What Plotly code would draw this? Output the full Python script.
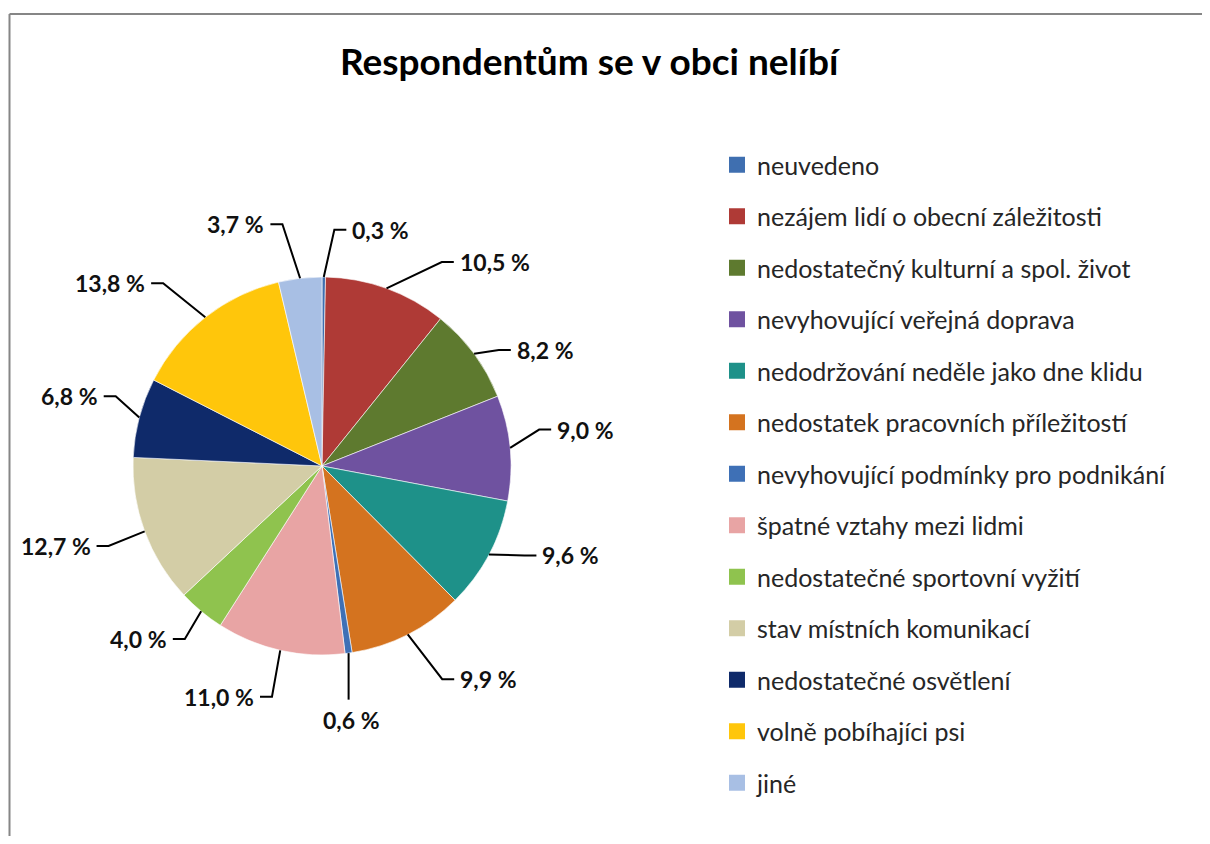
import math
import plotly.graph_objects as go

categories = [
    "neuvedeno",
    "nezájem lidí o obecní záležitosti",
    "nedostatečný kulturní a spol. život",
    "nevyhovující veřejná doprava",
    "nedodržování neděle jako dne klidu",
    "nedostatek pracovních příležitostí",
    "nevyhovující podmínky pro podnikání",
    "špatné vztahy mezi lidmi",
    "nedostatečné sportovní vyžití",
    "stav místních komunikací",
    "nedostatečné osvětlení",
    "volně pobíhajíci psi",
    "jiné",
]
values = [0.3, 10.5, 8.2, 9.0, 9.6, 9.9, 0.6, 11.0, 4.0, 12.7, 6.8, 13.8, 3.7]
colors = ["#3F6FB0", "#AF3A36", "#5E7A2F", "#6F52A0", "#1E9189", "#D4731F",
          "#3E70B6", "#E8A4A4", "#8FC34E", "#D3CDA6", "#0F2A6A", "#FFC60B", "#A8BFE4"]
title_text = "Respondentům se v obci nelíbí"

# label layout (styling): angular nudge in degrees and distance of label anchor in px
label_shift = [6.3, 13.7, 5.4, -3.4, -5.7, -5.6, 0, 3.2, 1.8, 1.0, 2.6, -5.6, -6.3]
label_dist = [238, 245, 225, 236, 236, 253, 256, 240, 231, 243, 233, 253, 248]

OX, OY = 8, 8                 # page offset (body margin)
W, H = 1210 - 2 * OX, 844 - 2 * OY
CX, CY, R = 322 - OX, 466 - OY, 189   # pie centre / radius in px

fig = go.Figure()
fig.add_trace(go.Pie(
    labels=categories, values=values, sort=False, direction="clockwise",
    rotation=0, textinfo="none", showlegend=False,
    marker=dict(colors=colors, line=dict(color="rgba(255,255,255,0.6)", width=1)),
    domain=dict(x=[(CX - R) / W, (CX + R) / W], y=[1 - (CY + R) / H, 1 - (CY - R) / H]),
    hoverinfo="label+percent",
))

# legend via dummy traces (for item spacing)
for c, col in zip(categories, colors):
    fig.add_trace(go.Scatter(x=[None], y=[None], mode="markers", name=c, legendgroup=c,
                             marker=dict(symbol="square", size=16, color=col)))


def px(x, y):
    return f"{x / W},{1 - y / H}"


# labels with leader lines, computed from slice mid angles
total = sum(values)
cum = 0.0
shapes = []
annotations = []
label_font = dict(family="Lato", size=23, color="#111111", weight="bold")
for v, shift, dist in zip(values, label_shift, label_dist):
    mid = (cum + v / 2) / total * 2 * math.pi
    cum += v
    s, c = math.sin(mid), -math.cos(mid)
    x0, y0 = CX + R * s, CY + R * c
    text = f"{v:.1f} %".replace(".", ",")
    if c > 0.985:  # bottom-most: vertical leader, centred label below
        y1 = CY + (dist - 20) * c
        shapes.append(dict(type="path", xref="paper", yref="paper",
                           path=f"M {px(x0, y0)} L {px(x0, y1)}",
                           line=dict(color="black", width=2)))
        annotations.append(dict(x=(x0 + 3) / W, y=1 - (y1 + 4) / H, xref="paper", yref="paper",
                                text=text, showarrow=False, xanchor="center", yanchor="top",
                                font=label_font))
        continue
    a = mid + math.radians(shift)
    side = 1 if s >= 0 else -1
    ax, ay = CX + dist * math.sin(a), CY - dist * math.cos(a)
    ex = ax - side * 16
    shapes.append(dict(type="path", xref="paper", yref="paper",
                       path=f"M {px(x0, y0)} L {px(ex, ay)} L {px(ax - side * 4, ay)}",
                       line=dict(color="black", width=2)))
    annotations.append(dict(x=ax / W, y=1 - ay / H, xref="paper", yref="paper",
                            text=text, showarrow=False,
                            xanchor="left" if side > 0 else "right", yanchor="middle",
                            font=label_font))

# chart frame (left and top sides visible)
shapes.append(dict(type="line", xref="paper", yref="paper", x0=(9.5 - OX) / W, x1=(9.5 - OX) / W,
                   y0=0, y1=1 - (14 - OY) / H, line=dict(color="#868686", width=2)))
shapes.append(dict(type="line", xref="paper", yref="paper", x0=(9.5 - OX) / W, x1=1,
                   y0=1 - (14 - OY) / H, y1=1 - (14 - OY) / H, line=dict(color="#868686", width=2)))
annotations.append(dict(x=(590 - OX) / W, y=1 - (60 - OY) / H, xref="paper", yref="paper",
                        text=title_text, showarrow=False, xanchor="center", yanchor="middle",
                        font=dict(family="Lato", size=37, color="black", weight="bold")))

fig.update_layout(
    width=W, height=H, margin=dict(l=0, r=0, t=0, b=0),
    paper_bgcolor="white", plot_bgcolor="white",
    xaxis=dict(visible=False), yaxis=dict(visible=False),
    shapes=shapes, annotations=annotations,
    legend=dict(x=(717 - OX) / W, y=1 - (142 - OY) / H, xanchor="left", yanchor="top",
                font=dict(family="Lato", size=25, color="#262626"),
                tracegroupgap=16, itemclick=False, bgcolor="rgba(0,0,0,0)"),
)
fig.write_html("out.html")
